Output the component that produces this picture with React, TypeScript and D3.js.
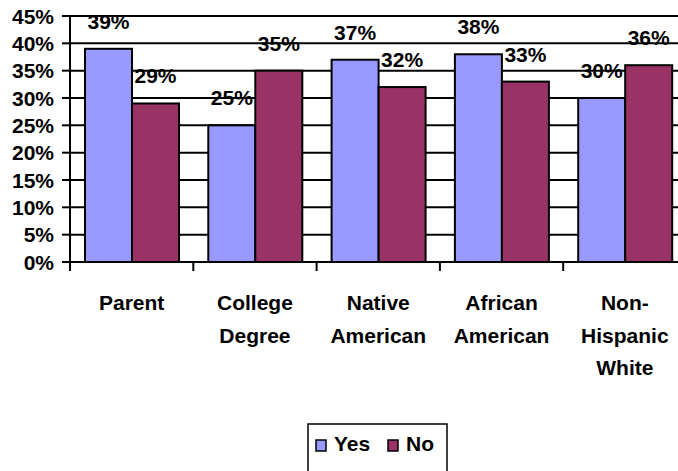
import React from "react";
import * as d3 from "d3";

const categories: string[][] = [
  ["Parent"],
  ["College", "Degree"],
  ["Native", "American"],
  ["African", "American"],
  ["Non-", "Hispanic", "White"],
];
const seriesNames = ["Yes", "No"];
const yesValues = [0.39, 0.25, 0.37, 0.38, 0.3];
const noValues = [0.29, 0.35, 0.32, 0.33, 0.36];
const yTicks = [0, 0.05, 0.1, 0.15, 0.2, 0.25, 0.3, 0.35, 0.4, 0.45];
const colors = ["#9999FF", "#993366"];

const W = 678;
const H = 471;
const FONT = "'Liberation Sans', Arial, sans-serif";

export default function App() {
  const left = 70;
  const catW = 123.3;
  const x0 = d3
    .scaleBand<number>()
    .domain(categories.map((_, i) => i))
    .range([left, left + catW * categories.length])
    .padding(0);
  const x1 = d3.scaleBand<string>().domain(seriesNames).range([15, 109]).padding(0);
  const y = d3.scaleLinear().domain([0, 0.45]).range([262, 16]);
  const fmt = d3.format(".0%");
  const values = [yesValues, noValues];
  const right = W + 10;

  return (
    <svg
      width={W}
      height={H}
      style={{ position: "absolute", left: 0, top: 0, background: "#fff" }}
      fontFamily={FONT}
      fontWeight="bold"
    >
      {/* gridlines */}
      {yTicks.map((t) => (
        <line key={"g" + t} x1={left} x2={right} y1={y(t)} y2={y(t)} stroke="#000" strokeWidth={2} />
      ))}
      {/* bars */}
      {categories.map((_, i) =>
        seriesNames.map((s, j) => {
          const v = values[j][i];
          const bx = (x0(i) as number) + (x1(s) as number);
          return (
            <rect
              key={`b${i}${j}`}
              x={bx}
              y={y(v)}
              width={x1.bandwidth()}
              height={y(0) - y(v)}
              fill={colors[j]}
              stroke="#000"
              strokeWidth={2}
            />
          );
        })
      )}
      {/* axes */}
      <line x1={left} x2={left} y1={y(0.45)} y2={y(0)} stroke="#000" strokeWidth={2} />
      <line x1={left - 8} x2={right} y1={y(0)} y2={y(0)} stroke="#000" strokeWidth={2} />
      {yTicks.map((t) => (
        <g key={"yt" + t}>
          <line x1={left - 8} x2={left} y1={y(t)} y2={y(t)} stroke="#000" strokeWidth={2} />
          <text x={left - 16} y={y(t)} dy="0.36em" textAnchor="end" fontSize={21}>
            {fmt(t)}
          </text>
        </g>
      ))}
      {categories.map((_, i) => (
        <line
          key={"xt" + i}
          x1={x0(i) as number}
          x2={x0(i) as number}
          y1={y(0)}
          y2={y(0) + 9}
          stroke="#000"
          strokeWidth={2}
        />
      ))}
      {/* category labels */}
      {categories.map((lines, i) => (
        <text
          key={"cl" + i}
          x={(x0(i) as number) + x0.bandwidth() / 2}
          y={310}
          textAnchor="middle"
          fontSize={21}
        >
          {lines.map((l, k) => (
            <tspan key={k} x={(x0(i) as number) + x0.bandwidth() / 2} y={310 + k * 32.7}>
              {l}
            </tspan>
          ))}
        </text>
      ))}
      {/* value labels */}
      {categories.map((_, i) =>
        seriesNames.map((s, j) => {
          const v = values[j][i];
          const cx = (x0(i) as number) + (x1(s) as number) + x1.bandwidth() / 2;
          return (
            <text key={`v${i}${j}`} x={cx} y={y(v) - 20} textAnchor="middle" fontSize={21}>
              {fmt(v)}
            </text>
          );
        })
      )}
      {/* legend */}
      <rect x={308} y={424} width={139} height={60} fill="#fff" stroke="#000" strokeWidth={1.5} />
      {seriesNames.map((s, j) => {
        const lx = j === 0 ? 316 : 388;
        return (
          <g key={"lg" + s}>
            <rect x={lx} y={440} width={10} height={11} fill={colors[j]} stroke="#000" strokeWidth={1.5} />
            <text x={lx + 18} y={451} fontSize={21}>
              {s}
            </text>
          </g>
        );
      })}
    </svg>
  );
}
